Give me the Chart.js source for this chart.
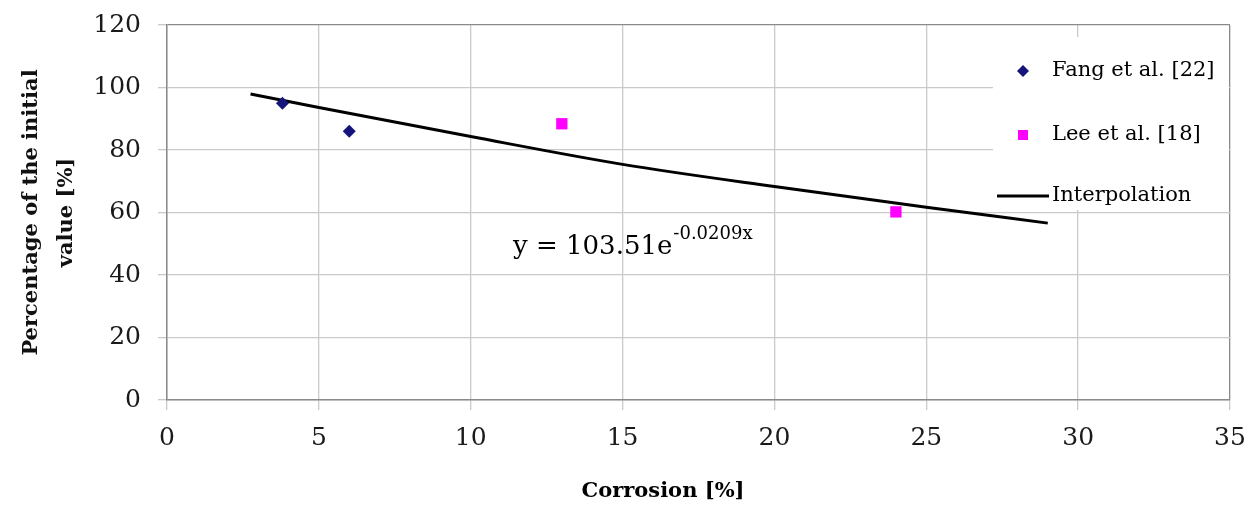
<!DOCTYPE html>
<html>
<head>
<meta charset="utf-8">
<script src="https://cdn.jsdelivr.net/npm/chart.js@4/dist/chart.umd.min.js"></script>
<style>
  html, body { margin: 0; padding: 0; background: #fff; }
  canvas { display: block; }
</style>
</head>
<body>
<canvas id="corrosionChart" width="1251" height="510"></canvas>
<script>
// values
const fangX = [3.8, 6.0];
const fangY = [95.0, 86.0];
const leeX = [13.0, 24.0];
const leeY = [88.4, 60.2];
const fitX = [2.75, 5, 10, 15, 20, 25, 29];
const fitY = [97.9, 93.6, 84.3, 75.4, 68.3, 61.7, 56.6];
const seriesLabels = ['Fang et al. [22]', 'Lee et al. [18]', 'Interpolation'];
const equationBase = 'y = 103.51e';
const equationExp = '-0.0209x';

const SERIF = '"DejaVu Serif", "Liberation Serif", serif';
const toPoints = (xs, ys) => xs.map((x, i) => ({ x: x, y: ys[i] }));

// draws the boxed legend in the upper right and the fit equation
const overlayPlugin = {
    id: 'overlay',
    beforeDatasetsDraw(chart) {
        const { ctx, chartArea } = chart;
        ctx.save();
        ctx.fillStyle = '#ffffff';
        ctx.fillRect(chartArea.right - 237, chartArea.top + 12, 236, 173);
        ctx.restore();
    },
    afterDraw(chart) {
        const { ctx, chartArea } = chart;
        const ds = chart.data.datasets;
        const markX = chartArea.right - 207;
        const textX = chartArea.right - 178;
        const rows = [chartArea.top + 46, chartArea.top + 110, chartArea.top + 171];
        ctx.save();
        ctx.textBaseline = 'middle';
        ctx.textAlign = 'left';

        // diamond
        ctx.fillStyle = ds[0].backgroundColor;
        ctx.beginPath();
        ctx.moveTo(markX, rows[0] - 6);
        ctx.lineTo(markX + 6, rows[0]);
        ctx.lineTo(markX, rows[0] + 6);
        ctx.lineTo(markX - 6, rows[0]);
        ctx.closePath();
        ctx.fill();
        // square
        ctx.fillStyle = ds[1].backgroundColor;
        ctx.fillRect(markX - 5, rows[1] - 5, 10, 10);
        // line
        ctx.strokeStyle = ds[2].borderColor;
        ctx.lineWidth = 3;
        ctx.beginPath();
        ctx.moveTo(chartArea.right - 233, rows[2]);
        ctx.lineTo(chartArea.right - 181, rows[2]);
        ctx.stroke();

        ctx.fillStyle = '#000';
        ctx.font = '21px ' + SERIF;
        seriesLabels.forEach((label, i) => {
            ctx.fillText(label, textX, rows[i]);
        });

        // equation of the fit
        ctx.font = '26px ' + SERIF;
        ctx.textBaseline = 'alphabetic';
        const ex = chartArea.left + 346;
        const ey = 254;
        ctx.fillText(equationBase, ex, ey);
        const w = ctx.measureText(equationBase).width;
        ctx.font = '18px ' + SERIF;
        ctx.fillText(equationExp, ex + w + 1, ey - 15);

        // x axis title
        ctx.font = 'bold 21px ' + SERIF;
        ctx.textAlign = 'center';
        ctx.textBaseline = 'middle';
        ctx.fillText('Corrosion [%]', chartArea.left + 496, 492);
        ctx.restore();
    }
};

const gridColor = '#c9c9c9';
const borderColor = '#8a8a8a';

new Chart(document.getElementById('corrosionChart').getContext('2d'), {
    type: 'scatter',
    data: {
        datasets: [
            {
                label: seriesLabels[0],
                data: toPoints(fangX, fangY),
                pointStyle: 'rectRot',
                pointRadius: 6.5,
                backgroundColor: '#14147a',
                borderColor: '#14147a',
                borderWidth: 0,
            },
            {
                label: seriesLabels[1],
                data: toPoints(leeX, leeY),
                pointStyle: 'rect',
                pointRadius: 8,
                backgroundColor: '#ff00ff',
                borderColor: '#ff00ff',
                borderWidth: 0,
            },
            {
                label: seriesLabels[2],
                type: 'line',
                data: toPoints(fitX, fitY),
                showLine: true,
                borderColor: '#000000',
                borderWidth: 3,
                pointRadius: 0,
                cubicInterpolationMode: 'monotone',
                fill: false,
            },
        ],
    },
    options: {
        responsive: false,
        animation: false,
        devicePixelRatio: 1,
        layout: { padding: { top: 25, right: 21, left: 0, bottom: 0 } },
        plugins: {
            legend: { display: false },
            tooltip: { enabled: false },
        },
        scales: {
            x: {
                type: 'linear',
                min: 0,
                max: 35,
                ticks: {
                    stepSize: 5,
                    color: '#1a1a1a',
                    font: { family: SERIF, size: 25 },
                    padding: 13,
                    maxRotation: 0,
                },
                grid: {
                    color: (c) => (c.tick && c.tick.value === 35 ? borderColor : gridColor),
                    tickColor: gridColor,
                    tickLength: 10,
                    lineWidth: 1.3,
                },
                border: { color: borderColor, width: 1.5 },
                afterFit(scale) {
                    scale.height = 110;
                    scale.paddingLeft = 0;
                    scale.paddingRight = 0;
                },
            },
            y: {
                min: 0,
                max: 120,
                ticks: {
                    stepSize: 20,
                    color: '#1a1a1a',
                    font: { family: SERIF, size: 25 },
                    padding: 17,
                },
                grid: {
                    color: (c) => (c.tick && c.tick.value === 120 ? borderColor : gridColor),
                    tickColor: gridColor,
                    tickLength: 9,
                    lineWidth: 1.3,
                },
                border: { color: borderColor, width: 1.5 },
                title: {
                    display: true,
                    text: ['Percentage of the initial', 'value [%]'],
                    color: '#111',
                    font: { family: SERIF, size: 21, weight: 'bold', lineHeight: 1.68 },
                    padding: { top: 14, bottom: 0 },
                },
                afterFit(scale) {
                    scale.width = 167;
                    scale.paddingTop = 0;
                    scale.paddingBottom = 0;
                },
            },
        },
    },
    plugins: [overlayPlugin],
});
</script>
</body>
</html>
